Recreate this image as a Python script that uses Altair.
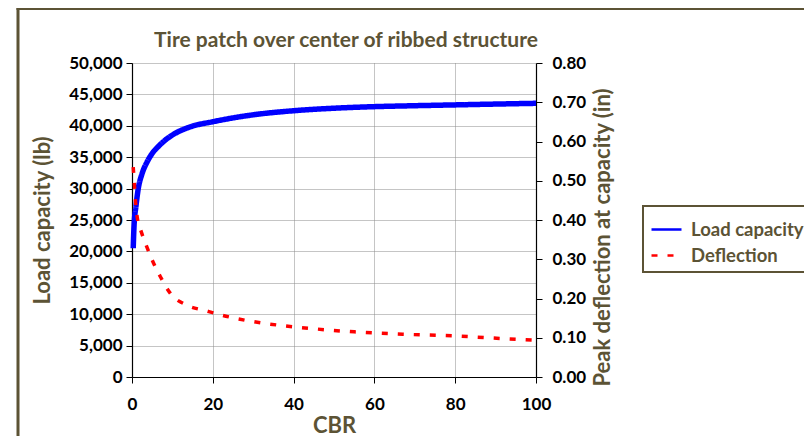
import altair as alt
import pandas as pd

# ---- data ----
load_cbr = [0.3, 0.5, 1.0, 1.5, 2.5, 3.7, 5.0, 6.5, 8.0, 10.3, 14.5, 20, 30, 40, 50, 60, 70, 80, 90, 100]
load_lb = [20500, 24000, 27300, 29800, 32400, 34200, 35600, 36700, 37600, 38650, 39850, 40650,
           41750, 42400, 42800, 43050, 43200, 43330, 43460, 43580]

defl_cbr = [0.3, 0.6, 0.9, 1.4, 2.1, 3.5, 5.0, 7.0, 9.5, 13.6, 18.2, 22, 30, 38, 46, 55, 67, 80, 92.5, 100]
defl_in = [0.535, 0.49, 0.443, 0.40, 0.376, 0.336, 0.298, 0.256, 0.213, 0.183, 0.169, 0.158,
           0.141, 0.130, 0.122, 0.115, 0.109, 0.1045, 0.0976, 0.094]

series_names = ["Load capacity", "Deflection"]
x_ticks = [0, 20, 40, 60, 80, 100]
left_ticks = list(range(0, 50001, 5000))
right_ticks = [0.0, 0.1, 0.2, 0.3, 0.4, 0.5, 0.6, 0.7, 0.8]

BROWN = "#5C5335"
FONT = "Lato"

load_df = pd.DataFrame({"CBR": load_cbr, "value": load_lb, "series": series_names[0]})
defl_df = pd.DataFrame({"CBR": defl_cbr, "value": defl_in, "series": series_names[1]})

W, H = 404, 314

x_enc = alt.X(
    "CBR:Q",
    scale=alt.Scale(domain=[0, 100], nice=False, zero=True),
    axis=alt.Axis(
        values=x_ticks, title="CBR", grid=True, gridColor="#8a8a8a", gridDash=[1, 1],
        labelPadding=13, labelFlush=False, titleX=W / 2, titleY=48,
        titleBaseline="middle", titleAlign="center",
    ),
)

legend_kw = dict(
    orient="none", legendX=511, legendY=143, title=None, symbolType="stroke",
    symbolSize=900, symbolStrokeWidth=2.5, labelFont=FONT, labelFontSize=18.5,
    labelFontWeight="bold", labelColor=BROWN, strokeColor=BROWN, fillColor="white",
    padding=7, rowPadding=-6, labelOffset=8, labelLimit=200,
)

color_enc = alt.Color(
    "series:N",
    scale=alt.Scale(domain=series_names, range=["#0000ff", "#ff0000"]),
    legend=alt.Legend(**legend_kw),
)
dash_enc = alt.StrokeDash(
    "series:N",
    scale=alt.Scale(domain=series_names, range=[[1, 0], [6, 10]]),
    legend=alt.Legend(**legend_kw),
)

load_line = alt.Chart(load_df).mark_line(strokeWidth=5.5, interpolate="monotone").encode(
    x=x_enc,
    y=alt.Y(
        "value:Q",
        scale=alt.Scale(domain=[0, 50000], nice=False),
        axis=alt.Axis(
            values=left_ticks, format=",d", orient="left", title="Load capacity (lb)",
            grid=True, gridColor="#8a8a8a", gridDash=[1, 1], labelPadding=4,
            titleX=-90, titleY=H / 2, titleAlign="center", titleBaseline="middle",
        ),
    ),
    color=color_enc,
    strokeDash=dash_enc,
)

defl_line = alt.Chart(defl_df).mark_line(strokeWidth=3.5, interpolate="monotone").encode(
    x=x_enc,
    y=alt.Y(
        "value:Q",
        scale=alt.Scale(domain=[0, 0.8], nice=False),
        axis=alt.Axis(
            values=right_ticks, format=".2f", orient="right",
            title="Peak deflection at capacity (in)", grid=False, labelPadding=10,
            titleX=66, titleY=174, titleAngle=270, titleAlign="center", titleBaseline="middle",
        ),
    ),
    color=color_enc,
    strokeDash=dash_enc,
)

frame_df = pd.DataFrame({"k": [0]})
frame_left = alt.Chart(frame_df).mark_rule(color=BROWN, strokeWidth=3).encode(
    x=alt.value(-114), y=alt.value(-55), y2=alt.value(385)
)
frame_top = alt.Chart(frame_df).mark_rule(color=BROWN, strokeWidth=3).encode(
    x=alt.value(-115.5), x2=alt.value(690), y=alt.value(-54.5)
)

chart = (
    alt.layer(load_line, defl_line, frame_left, frame_top)
    .resolve_scale(y="independent")
    .properties(
        width=W, height=H,
        autosize=alt.AutoSizeParams(type="none"),
        padding={"left": 124, "top": 55, "right": 268, "bottom": 59},
        title=alt.TitleParams(
            "Tire patch over center of ribbed structure", font=FONT, fontSize=21,
            fontWeight="bold", color=BROWN, anchor="middle", dx=12, offset=-61,
            baseline="alphabetic",
        ),
    )
    .configure_view(strokeWidth=0)
    .configure_axis(
        labelFont=FONT, labelFontSize=17, labelFontWeight="bold", labelColor="black",
        titleFont=FONT, titleFontSize=22, titleFontWeight="bold", titleColor=BROWN,
        domainColor="black", tickColor="black", tickSize=6, domainWidth=1.2,
    )
    .configure_legend(strokeWidth=2)
)

chart.save("out.html", embed_options={"renderer": "svg", "actions": False})
